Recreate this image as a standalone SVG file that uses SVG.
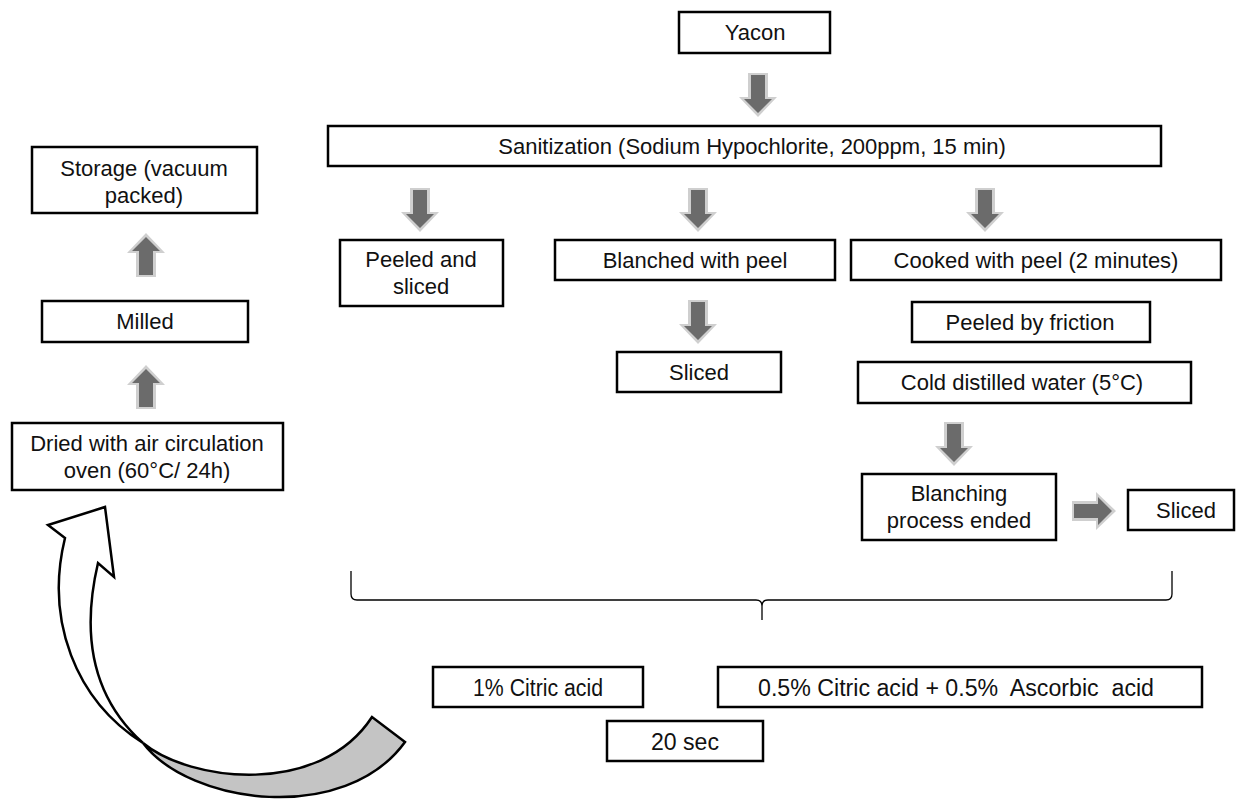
<svg xmlns="http://www.w3.org/2000/svg" width="1236" height="800" viewBox="0 0 1236 800">
<style>
.box{fill:#fff;stroke:#000;stroke-width:2.5}
.t{font-family:"Liberation Sans",Arial,sans-serif;font-size:22px;fill:#111;text-anchor:middle}
.n{font-family:"Liberation Sans",Arial,sans-serif;font-size:23px;fill:#111;text-anchor:middle;white-space:pre}
.glow{fill:#cfcfcf}
.core{fill:#6b6b6b}
</style>
<defs>
<g id="down">
<path class="glow" d="M-10,0 H10 V24 H19 L0,44 L-19,24 H-10 Z"/>
<path class="core" d="M-7,2 H7 V26 H14 L0,40 L-14,26 H-7 Z"/>
</g>
</defs>
<rect width="1236" height="800" fill="#fff"/>
<g id="connectors">
<use href="#down" transform="translate(758,73)"/>
<use href="#down" transform="translate(420,188)"/>
<use href="#down" transform="translate(698,188)"/>
<use href="#down" transform="translate(985,188)"/>
<use href="#down" transform="translate(698,300)"/>
<use href="#down" transform="translate(954,422)"/>
<use href="#down" transform="translate(1072,511) rotate(-90)"/>
<use href="#down" transform="translate(146,277) rotate(180)"/>
<use href="#down" transform="translate(146,409) rotate(180)"/>
<path d="M351,571 V594 Q351,600 357,600 H756 Q762,600 762,606 V620 M762,620 V606 Q762,600 768,600 H1166 Q1172,600 1172,594 V571" fill="none" stroke="#000" stroke-width="1.3"/>
<g id="curved-arrow" stroke="#000" stroke-width="2.5" stroke-linejoin="miter">
<path d="M143,743 C190,805 345,825 405,742 L372,717 C320,797 190,782 143,743 Z" fill="#c4c4c4"/>
<path d="M105,507 L114,577 L98,563 C80,640 95,700 143,743 C75,700 45,620 65,538 L48,525 Z" fill="#fff"/>
</g>
</g>
<g id="yacon"><rect class="box" x="679" y="12" width="151" height="41"/><text class="t" x="755" y="40">Yacon</text></g>
<g id="sanitization"><rect class="box" x="328" y="126" width="833" height="40"/><text class="t" x="752" y="154">Sanitization (Sodium Hypochlorite, 200ppm, 15 min)</text></g>
<g id="storage"><rect class="box" x="32" y="147" width="225" height="66"/><text class="t" x="144" y="176">Storage (vacuum</text><text class="t" x="144" y="203">packed)</text></g>
<g id="milled"><rect class="box" x="42" y="301" width="206" height="41"/><text class="t" x="145" y="329">Milled</text></g>
<g id="dried"><rect class="box" x="12" y="423" width="271" height="67"/><text class="t" x="147" y="451">Dried with air circulation</text><text class="t" x="147" y="478">oven (60°C/ 24h)</text></g>
<g id="peeled-sliced"><rect class="box" x="340" y="240" width="163" height="66"/><text class="t" x="421" y="267">Peeled and</text><text class="t" x="421" y="294">sliced</text></g>
<g id="blanched"><rect class="box" x="555" y="240" width="280" height="40"/><text class="t" x="695" y="268">Blanched with peel</text></g>
<g id="cooked"><rect class="box" x="851" y="240" width="370" height="40"/><text class="t" x="1036" y="268">Cooked with peel (2 minutes)</text></g>
<g id="sliced-mid"><rect class="box" x="617" y="352" width="164" height="40"/><text class="t" x="699" y="380">Sliced</text></g>
<g id="peeled-friction"><rect class="box" x="912" y="302" width="238" height="40"/><text class="t" x="1030" y="330">Peeled by friction</text></g>
<g id="cold-water"><rect class="box" x="858" y="362" width="333" height="41"/><text class="t" x="1022" y="390">Cold distilled water (5°C)</text></g>
<g id="blanching-ended"><rect class="box" x="862" y="474" width="194" height="66"/><text class="t" x="959" y="501">Blanching</text><text class="t" x="959" y="528">process ended</text></g>
<g id="sliced-right"><rect class="box" x="1128" y="490" width="106" height="40"/><text class="t" x="1186" y="518">Sliced</text></g>
<g id="citric"><rect class="box" x="433" y="667" width="210" height="40"/><text class="n" x="538" y="696" textLength="130" lengthAdjust="spacingAndGlyphs">1% Citric acid</text></g>
<g id="citric-ascorbic"><rect class="box" x="718" y="667" width="484" height="40"/><text class="n" x="956" y="696" textLength="396" lengthAdjust="spacingAndGlyphs" xml:space="preserve">0.5% Citric acid + 0.5%  Ascorbic  acid</text></g>
<g id="sec20"><rect class="box" x="607" y="721" width="156" height="40"/><text class="n" x="685" y="750" textLength="68" lengthAdjust="spacingAndGlyphs">20 sec</text></g>
</svg>
